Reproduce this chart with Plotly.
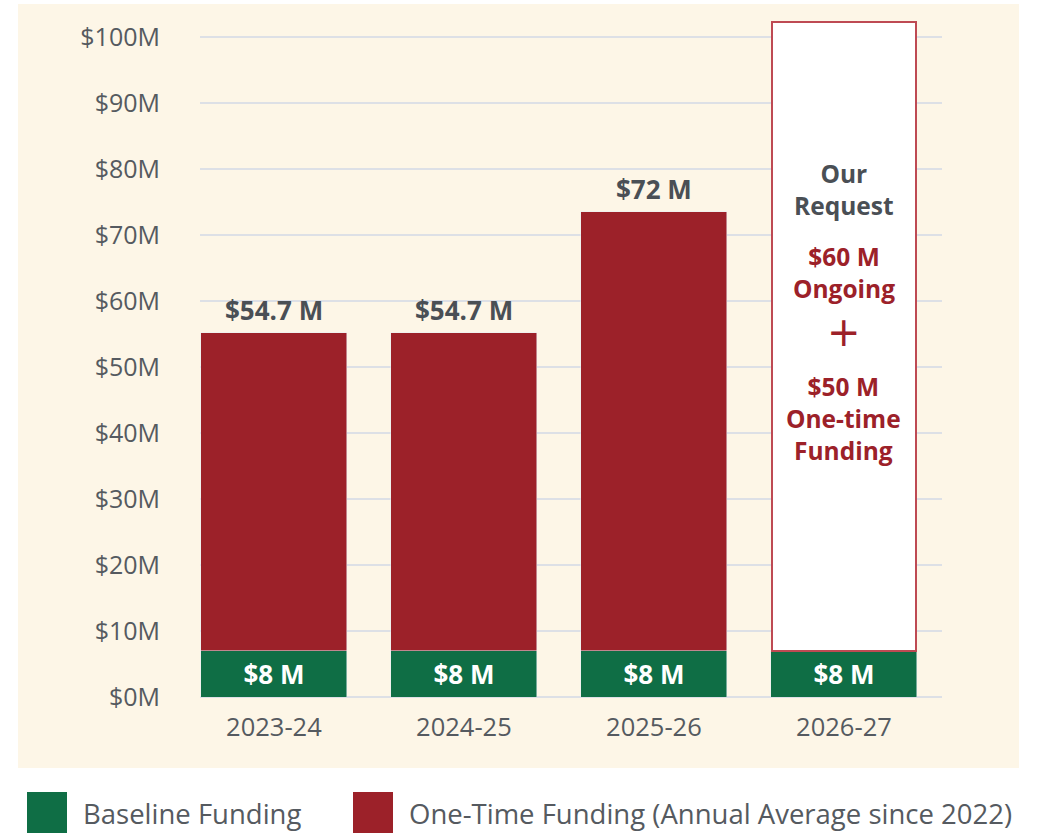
import plotly.graph_objects as go

# ---- data ----
years = ["2023-24", "2024-25", "2025-26", "2026-27"]
baseline = [7, 7, 7, 7]
one_time = [48.2, 48.2, 66.6, None]
request = [None, None, None, 95.3]
baseline_labels = ["$8 M", "$8 M", "$8 M", "$8 M"]
total_labels = ["$54.7 M", "$54.7 M", "$72 M", None]
y_ticks = [0, 10, 20, 30, 40, 50, 60, 70, 80, 90, 100]

GREEN = "#0F6E45"
RED = "#9C2129"
BOX_LINE = "#BE4A53"
CREAM = "#FDF6E7"
GREY = "#555A60"
FONT = "Open Sans"

W, H = 1051, 833
L, R, T, B = 200, 109, 11, 136
pw, ph = W - L - R, H - T - B


def px(x):
    return (x - L) / pw


def py(y):
    return (H - B - y) / ph


fig = go.Figure()
fig.add_bar(x=years, y=baseline, name="Baseline Funding", marker_color=GREEN,
            text=baseline_labels, textposition="inside", insidetextanchor="middle",
            textfont=dict(color="white", size=26, family=FONT, weight="bold"),
            constraintext="none", width=0.768, showlegend=False)
fig.add_bar(x=years, y=one_time, name="One-Time Funding (Annual Average since 2022)",
            marker_color=RED, width=0.768, showlegend=False)
fig.add_bar(x=years, y=request, name="Our Request", marker=dict(color="white",
            line=dict(color=BOX_LINE, width=2)), width=0.76, showlegend=False)

# total labels above bars
for yr, b, o, t in zip(years, baseline, one_time, total_labels):
    if t is None:
        continue
    fig.add_annotation(x=yr, y=b + o, text=f"<b>{t}</b>", showarrow=False,
                       yanchor="bottom", yshift=3,
                       font=dict(size=26, color="#4A4F55", family=FONT))

# request box text
req_x = years[3]
fig.add_annotation(x=req_x, y=77, text="<b>Our<br>Request</b>", showarrow=False,
                   font=dict(size=24.5, color="#4A4F55", family=FONT))
fig.add_annotation(x=req_x, y=64.3, text="<b>$60 M<br>Ongoing</b>", showarrow=False,
                   font=dict(size=24.5, color=RED, family=FONT))
fig.add_annotation(x=req_x, y=55.3, text="+", showarrow=False,
                   font=dict(size=40, color=RED, family="DejaVu Sans"))
fig.add_annotation(x=req_x, y=42.2, text="<b>$50 M<br>One-time<br>Funding</b>", showarrow=False,
                   font=dict(size=24.5, color=RED, family=FONT))

# cream background panel
fig.add_shape(type="rect", xref="paper", yref="paper", layer="below",
              x0=px(18), x1=px(1019), y0=py(768), y1=py(4),
              fillcolor=CREAM, line=dict(width=0))

# legend (manual, large squares)
legend_items = [("Baseline Funding", GREEN, 27), ("One-Time Funding (Annual Average since 2022)", RED, 353)]
for label, color, x0 in legend_items:
    fig.add_shape(type="rect", xref="paper", yref="paper",
                  x0=px(x0), x1=px(x0 + 40), y0=py(833), y1=py(792),
                  fillcolor=color, line=dict(width=0))
    fig.add_annotation(xref="paper", yref="paper", x=px(x0 + 54), y=py(813),
                       text=label, showarrow=False, xanchor="left", yanchor="middle",
                       font=dict(size=27.5, color=GREY, family=FONT))

fig.update_layout(
    width=W, height=H,
    margin=dict(l=L, r=R, t=T, b=B),
    barmode="stack",
    paper_bgcolor="white",
    plot_bgcolor="rgba(0,0,0,0)",
    font=dict(family=FONT, color=GREY, size=24),
    showlegend=False,
)
fig.update_xaxes(range=[-0.389, 3.516], showgrid=False, showline=False,
                 ticks="", tickfont=dict(size=25.5, color=GREY), ticklabelstandoff=12)
fig.update_yaxes(range=[0, 104], tickvals=y_ticks,
                 ticktext=[f"${v}M" for v in y_ticks],
                 showgrid=True, gridcolor="#DDE0E6", gridwidth=1.5,
                 zeroline=True, zerolinecolor="#DDE0E6", zerolinewidth=1.5,
                 showline=False, ticks="", tickfont=dict(size=25, color=GREY),
                 ticklabelstandoff=39)

fig.write_html("out.html", config={"displayModeBar": False},
               post_script="document.body.style.margin='0';document.body.style.overflow='hidden';")
